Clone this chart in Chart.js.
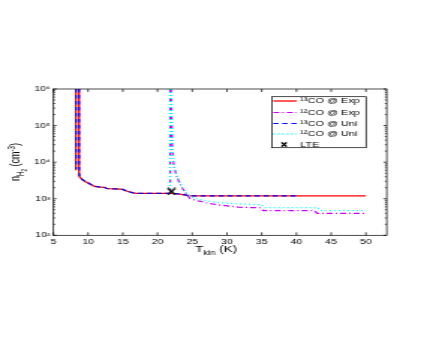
<!DOCTYPE html>
<html><head><meta charset="utf-8">
<script src="https://cdn.jsdelivr.net/npm/chart.js@4/dist/chart.umd.min.js"></script>
<style>
html,body{margin:0;padding:0;background:#fff;overflow:hidden}
#wrap{width:291px;height:354px;transform:scaleX(1.4983);transform-origin:0 0;}
canvas{display:block}
</style></head><body>
<div id="wrap"><canvas id="c" width="291" height="354"></canvas></div>
<script>
// ---- data ----
const xTicks = [5,10,15,20,25,30,35,40,45,50];
const yTicks = [1e2,1e3,1e4,1e5,1e6];
const yTickLabels = ['10\u00B2','10\u00B3','10\u2074','10\u2075','10\u2076'];
const seriesNames = ['\u00B9\u00B3CO @ Exp','\u00B9\u00B2CO @ Exp','\u00B9\u00B3CO @ Uni','\u00B9\u00B2CO @ Uni','LTE'];

// 13CO @ Exp
const T13Exp = [8.24, 8.24, 8.4, 8.68, 8.7, 8.9, 9.1, 9.5, 9.9, 10.4, 11.0, 11.5, 12.3, 12.7, 14.0, 15.0, 15.6, 16.5, 17.0, 20.0, 22.0, 23.0, 24.5, 25.0, 30.0, 35.0, 40.0, 45.0, 50.0];
const N13Exp = [1e6, 6000, null, 1e6, 4200, 3700, 3400, 3000, 2750, 2450, 2150, 2100, 2050, 1900, 1850, 1800, 1600, 1450, 1400, 1400, 1400, 1350, 1220, 1200, 1200, 1200, 1200, 1200, 1200];
// 12CO @ Exp
const T12Exp = [21.82, 21.82, 21.9, 21.96, 22.0, 22.06, 22.12, 22.28, 22.5, 22.8, 23.2, 23.6, 24.2, 24.7, 25.5, 26.2, 27.3, 29.0, 31.6, 33.6, 34.8, 35.2, 42.6, 43.0, 50.0];
const N12Exp = [1e6, 1600, null, 1e6, 3e5, 8e4, 2.5e4, 1e4, 6000, 3900, 2600, 1900, 1300, 1000, 900, 850, 750, 670, 590, 570, 565, 470, 470, 400, 400];
// 13CO @ Uni
const T13Uni = [8.26, 8.26, 8.4, 8.7, 8.72, 8.9, 9.1, 9.5, 9.9, 10.4, 11.0, 11.5, 12.3, 12.7, 14.0, 15.0, 15.6, 16.5, 17.0, 20.0, 22.0, 23.0, 24.5, 25.0, 30.0, 35.0, 40.0];
const N13Uni = [1e6, 6500, null, 1e6, 4500, 3800, 3450, 3050, 2800, 2450, 2200, 2100, 2050, 1900, 1850, 1800, 1600, 1450, 1400, 1400, 1400, 1350, 1220, 1200, 1200, 1200, 1200];
// 12CO @ Uni
const T12Uni = [21.78, 21.78, 21.9, 21.98, 22.02, 22.08, 22.15, 22.3, 22.5, 22.8, 23.2, 23.6, 24.2, 25.2, 26.6, 28.3, 30.2, 33.6, 35.0, 35.4, 43.0, 43.4, 50.0];
const N12Uni = [1e6, 1700, null, 1e6, 3e5, 8e4, 2.5e4, 1e4, 6500, 4200, 2800, 2000, 1400, 1050, 900, 800, 750, 700, 680, 570, 570, 470, 470];
// LTE
const TLTE = [22.0];
const NLTE = [1580];

// ---- build ----
const pts = (T, N) => T.map((t, i) => ({x: t, y: N[i]}));
const FONT = "'Liberation Sans', Arial, Helvetica, sans-serif";
const colors = ['#ff0000', '#cc00ff', '#0000ff', '#00ffff', '#000000'];
const dashes = [[], [4,2,1,2], [3.5,2.5], [1,2], []];
const widths = [1.3, 1.2, 1.2, 1.3, 1.2];

// X marker image
const xMark = document.createElement('canvas');
xMark.width = 7; xMark.height = 8;
(function(){const g = xMark.getContext('2d'); g.strokeStyle='#000'; g.lineWidth=1.5;
  g.beginPath(); g.moveTo(0.9,0.6); g.lineTo(6.1,7.4); g.moveTo(0.9,7.4); g.lineTo(6.1,0.6); g.stroke();})();

const lineDs = (i, T, N, ord) => ({
  label: seriesNames[i], data: pts(T, N), borderColor: colors[i], backgroundColor: colors[i],
  borderWidth: widths[i], borderDash: dashes[i], pointRadius: 0, showLine: true, spanGaps: false,
  tension: 0, fill: false, order: ord
});

const frame = {
  id: 'frame',
  afterDatasetsDraw(chart) {
    const {ctx, chartArea: a, scales: {x, y}} = chart;
    ctx.save();
    ctx.strokeStyle = '#000'; ctx.lineWidth = 0.7; ctx.setLineDash([]);
    ctx.strokeRect(a.left, a.top, a.right - a.left, a.bottom - a.top);
    ctx.beginPath();
    xTicks.forEach(v => { const p = x.getPixelForValue(v);
      ctx.moveTo(p, a.bottom); ctx.lineTo(p, a.bottom - 3);
      ctx.moveTo(p, a.top); ctx.lineTo(p, a.top + 3); });
    for (let e = 2; e <= 6; e++) {
      for (let m = 1; m < 10; m++) {
        const v = m * Math.pow(10, e); if (v > 1e6) break;
        const p = y.getPixelForValue(v); const L = m === 1 ? 2.2 : 1.3;
        ctx.moveTo(a.left, p); ctx.lineTo(a.left + L, p);
        ctx.moveTo(a.right, p); ctx.lineTo(a.right - L, p);
      }
    }
    ctx.stroke();

    // axis titles
    ctx.fillStyle = '#000'; ctx.textBaseline = 'alphabetic'; ctx.textAlign = 'left';
    const runs = (pieces, f) => pieces.map(p => { ctx.font = (p[1]*f).toFixed(2) + 'px ' + FONT; return ctx.measureText(p[0]).width; });
    const drawRuns = (pieces, f, x0, y0) => { const w = runs(pieces, f); let cx = x0;
      pieces.forEach((p, i) => { ctx.font = (p[1]*f).toFixed(2) + 'px ' + FONT; ctx.fillText(p[0], cx, y0 + p[2]*f); cx += w[i]; }); };
    const xt = [['T',1,0],['kin',0.7,0.3],[' (K)',1,0]];
    const fx = 9; const wx = runs(xt, fx).reduce((s,v)=>s+v,0);
    drawRuns(xt, fx, 144.2 - wx/2, 252);
    const yt = [['n',1,0],['H',0.7,0.3],['2',0.5,0.5],[' (cm',1,0],['-3',0.7,-0.4],[')',1,0]];
    const fy = 9; const wy = runs(yt, fy).reduce((s,v)=>s+v,0);
    ctx.save(); ctx.translate(13.2, 162); ctx.rotate(-Math.PI/2);
    drawRuns(yt, fy, -wy/2, 0); ctx.restore();

    // legend
    const L = {left: 181.4, right: 244.3, top: 96.7, bottom: 147.7};
    ctx.fillStyle = '#fff'; ctx.fillRect(L.left, L.top, L.right - L.left, L.bottom - L.top);
    ctx.strokeStyle = '#000'; ctx.lineWidth = 0.7;
    ctx.strokeRect(L.left, L.top, L.right - L.left, L.bottom - L.top);
    const rows = [101, 112.5, 123.5, 134, 144.5];
    ctx.font = '7.3px ' + FONT; ctx.textBaseline = 'middle'; ctx.fillStyle = '#000';
    rows.forEach((ry, i) => {
      if (i < 4) {
        ctx.strokeStyle = colors[i]; ctx.lineWidth = widths[i]; ctx.setLineDash(dashes[i]);
        ctx.beginPath(); ctx.moveTo(182.4, ry); ctx.lineTo(198.1, ry); ctx.stroke();
      } else {
        ctx.setLineDash([]); ctx.strokeStyle = '#000'; ctx.lineWidth = 1.3;
        ctx.beginPath(); ctx.moveTo(187.9, ry - 2.2); ctx.lineTo(191.3, ry + 2.2);
        ctx.moveTo(187.9, ry + 2.2); ctx.lineTo(191.3, ry - 2.2); ctx.stroke();
      }
      ctx.fillText(seriesNames[i], 200.3, ry + 0.3);
    });
    ctx.restore();
  }
};

new Chart(document.getElementById('c'), {
  type: 'line',
  data: { datasets: [
    lineDs(0, T13Exp, N13Exp, 5),
    lineDs(1, T12Exp, N12Exp, 3),
    lineDs(2, T13Uni, N13Uni, 4),
    lineDs(3, T12Uni, N12Uni, 2),
    { label: seriesNames[4], data: pts(TLTE, NLTE), showLine: false, pointStyle: xMark,
      pointRadius: 4, borderColor: '#000', backgroundColor: '#000', order: 0 }
  ]},
  options: {
    responsive: false, animation: false, devicePixelRatio: 1,
    layout: { autoPadding: false, padding: { left: 0, top: 89, right: 32.9, bottom: 0 } },
    plugins: { legend: { display: false }, tooltip: { enabled: false }, title: { display: false } },
    scales: {
      x: { type: 'linear', min: 5, max: 53,
        grid: { display: false, drawTicks: false }, border: { display: false },
        ticks: { padding: 2.5, color: '#000', font: { family: FONT, size: 7 }, maxRotation: 0, autoSkip: false },
        afterBuildTicks: s => { s.ticks = xTicks.map(v => ({ value: v })); },
        afterFit: s => { s.height = 118.7; } },
      y: { type: 'logarithmic', min: 100, max: 1e6,
        grid: { display: false, drawTicks: false }, border: { display: false },
        ticks: { padding: 2, color: '#000', font: { family: FONT, size: 7 }, autoSkip: false,
          callback: v => { const i = yTicks.indexOf(v); return i >= 0 ? yTickLabels[i] : ''; } },
        afterBuildTicks: s => { s.ticks = yTicks.map(v => ({ value: v })); },
        afterFit: s => { s.width = 35.6; } }
    }
  },
  plugins: [frame]
});
</script></body></html>
